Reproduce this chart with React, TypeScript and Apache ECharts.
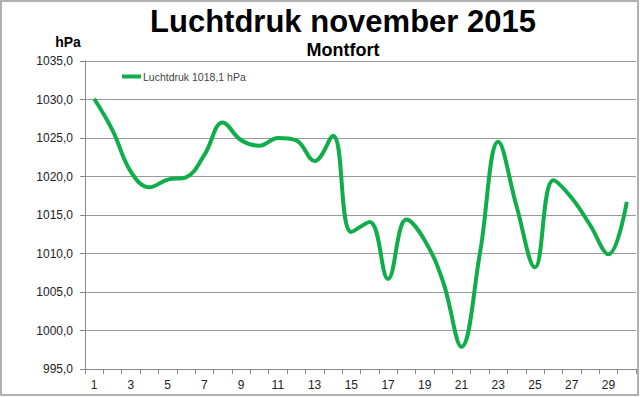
import React, { useEffect, useRef } from "react";
import * as echarts from "echarts";

const days: string[] = Array.from({ length: 30 }, (_, i) => String(i + 1));
const pressure: number[] = [
  1030.1, 1026.0, 1020.6, 1018.6, 1019.6, 1019.9, 1022.8, 1027.0, 1024.7, 1024.0,
  1025.0, 1024.7, 1022.0, 1025.3, 1012.8, 1014.1, 1006.7, 1014.4, 1011.7, 1006.3,
  997.9, 1010.0, 1024.5, 1016.1, 1008.2, 1019.5, 1017.2, 1013.7, 1009.9, 1016.7,
];
const seriesName = "Luchtdruk 1018,1 hPa";
const titleText = "Luchtdruk november 2015";
const subtitleText = "Montfort";
const unitText = "hPa";

export default function App() {
  const ref = useRef<HTMLDivElement>(null);
  useEffect(() => {
    if (!ref.current) return;
    const chart = echarts.init(ref.current, undefined, { renderer: "svg" });
    const font = "Liberation Sans, Arial, sans-serif";
    chart.setOption({
      animation: false,
      backgroundColor: "#ffffff",
      textStyle: { fontFamily: font },
      grid: { left: 85, right: 4, top: 61, bottom: 28, containLabel: false },
      legend: {
        show: true,
        left: 122,
        top: 71,
        padding: 0,
        icon: "rect",
        itemWidth: 19,
        itemHeight: 4,
        textStyle: { fontSize: 10.5, color: "#444", fontFamily: font, padding: [0, 0, 0, -3] },
        data: [seriesName],
      },
      xAxis: {
        type: "category",
        data: days,
        boundaryGap: true,
        axisLine: { show: true, lineStyle: { color: "#888", width: 1 } },
        axisTick: { show: true, interval: 0, length: 5, lineStyle: { color: "#888" } },
        axisLabel: { interval: 1, fontSize: 12, color: "#222", margin: 10, fontFamily: font },
        splitLine: { show: false },
      },
      yAxis: {
        type: "value",
        min: 995,
        max: 1035,
        interval: 5,
        axisLine: { show: true, lineStyle: { color: "#888", width: 1 } },
        axisTick: { show: true, length: 5, lineStyle: { color: "#888" } },
        axisLabel: {
          fontSize: 12,
          color: "#222",
          margin: 12,
          fontFamily: font,
          formatter: (v: number) => v.toFixed(1).replace(".", ","),
        },
        splitLine: { show: true, lineStyle: { color: "#999", width: 1 } },
      },
      series: [
        {
          name: seriesName,
          type: "line",
          data: pressure,
          smooth: 0.4,
          symbol: "none",
          showSymbol: false,
          lineStyle: { color: "#0fae4a", width: 4 },
          itemStyle: { color: "#0fae4a" },
        },
      ],
      graphic: [
        {
          type: "rect",
          shape: { x: 1, y: 1, width: 637, height: 394 },
          style: { fill: "none", stroke: "#b0b0b0", lineWidth: 2 },
          silent: true,
          z: 100,
        },
        {
          type: "text",
          x: 343,
          y: 21,
          style: {
            text: titleText,
            font: `bold 31px ${font}`,
            fill: "#000",
            align: "center",
            verticalAlign: "middle",
          },
        },
        {
          type: "text",
          x: 343,
          y: 50,
          style: {
            text: subtitleText,
            font: `bold 18px ${font}`,
            fill: "#000",
            align: "center",
            verticalAlign: "middle",
          },
        },
        {
          type: "text",
          x: 68,
          y: 42,
          style: {
            text: unitText,
            font: `bold 14px ${font}`,
            fill: "#000",
            align: "center",
            verticalAlign: "middle",
          },
        },
      ],
    });
    return () => chart.dispose();
  }, []);
  return (
    <div
      ref={ref}
      style={{ position: "fixed", left: 0, top: 0, width: 640, height: 397, background: "#fff" }}
    />
  );
}
